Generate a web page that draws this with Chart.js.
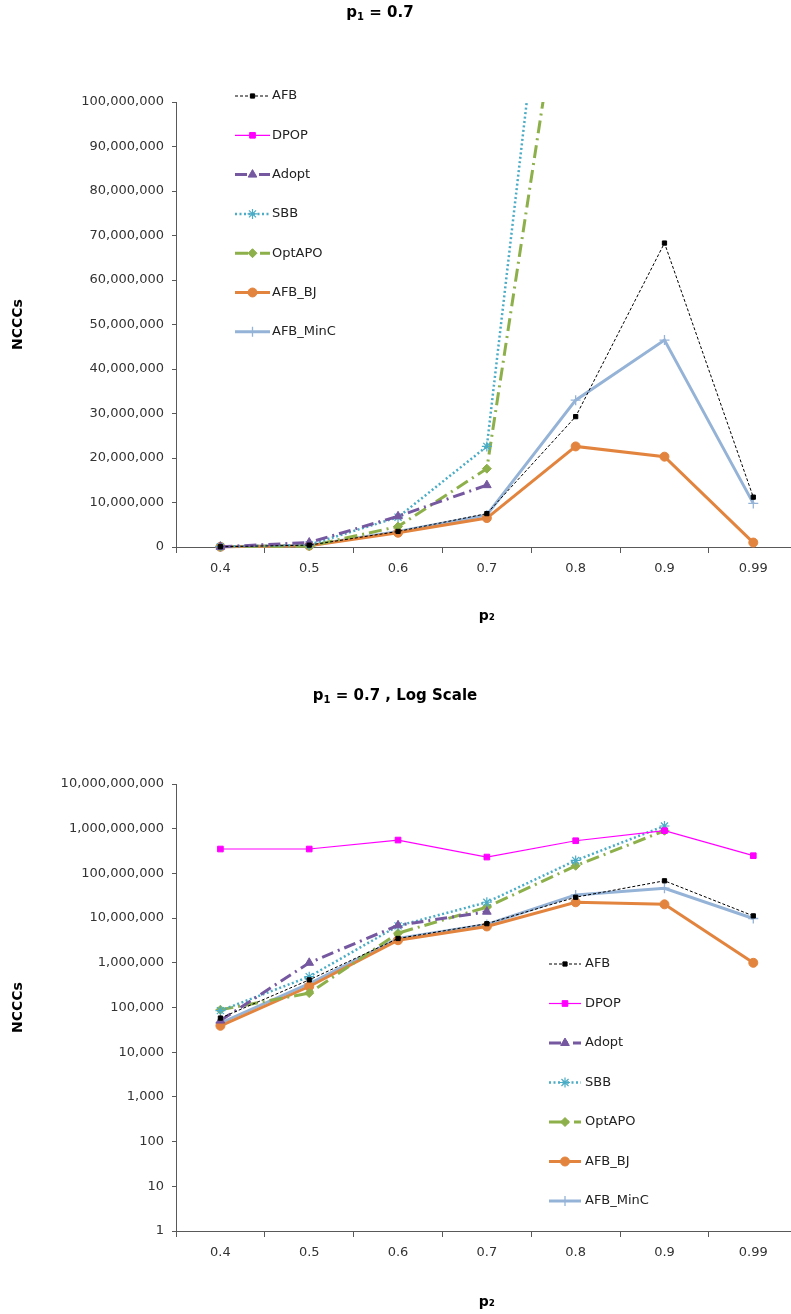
<!DOCTYPE html>
<html>
<head>
<meta charset="utf-8">
<script src="https://cdn.jsdelivr.net/npm/chart.js@4.4.0/dist/chart.umd.min.js"></script>
<style>
  html, body { margin: 0; padding: 0; background: #fff; overflow: hidden; }
  #page { position: relative; width: 791px; height: 1314px; overflow: hidden; }
  canvas { position: absolute; left: 0; }
  .title { position: absolute; transform: translateX(-50%); font: bold 15px "DejaVu Sans", sans-serif;
           white-space: nowrap; color: #000; line-height: 16px; }
  .title sub { font-size: 10px; vertical-align: -3px; line-height: 0; }
</style>
</head>
<body>
<div id="page">
  <canvas id="linearChart" width="804" height="640" style="top:0"></canvas>
  <canvas id="logChart" width="804" height="664" style="top:650px"></canvas>
  <div class="title" style="left:380px; top:4px">p<sub>1</sub> = 0.7</div>
  <div class="title" style="left:395px; top:687px">p<sub>1</sub> = 0.7 , Log Scale</div>
</div>
<script>
// p2 values on the x axis
const categories = ["0.4", "0.5", "0.6", "0.7", "0.8", "0.9", "0.99"];

// NCCCs per algorithm (log chart used for the big values)
const afb = [58000, 415000, 3500000, 7500000, 29300000, 68300000, 11200000];
const dpop = [351000000, 351000000, 557000000, 232000000, 538000000, 902000000, 249000000];
const adopt = [51000, 1000000, 6900000, 13900000, null, null, null];
const sbb = [85000, 490000, 6700000, 22600000, 195000000, 1150000000, null];
const optApo = [89000, 210000, 4600000, 17600000, 148000000, 900000000, null];
const afbBj = [39000, 295000, 3200000, 6500000, 22600000, 20300000, 1000000];
const afbMinC = [45000, 340000, 3500000, 7200000, 33000000, 46500000, 9800000];

const linearTicks = [0, 10000000, 20000000, 30000000, 40000000, 50000000, 60000000, 70000000, 80000000, 90000000, 100000000];
const logTicks = [1, 10, 100, 1000, 10000, 100000, 1000000, 10000000, 100000000, 1000000000, 10000000000];

Chart.defaults.font.family = '"DejaVu Sans", sans-serif';
Chart.defaults.font.size = 13;
Chart.defaults.color = "#333";

const AXIS = "#595959";

function makeDatasets(clip) {
  const ds = [
    { label: "AFB", data: afb, borderColor: "#000", borderWidth: 1, borderDash: [3, 2],
      pointStyle: "rect", pointRadius: 3, pointBackgroundColor: "#000", pointBorderColor: "#000", pointBorderWidth: 1 },
    { label: "DPOP", data: dpop, borderColor: "#ff00ff", borderWidth: 1.2, borderDash: [],
      pointStyle: "rect", pointRadius: 4, pointBackgroundColor: "#ff00ff", pointBorderColor: "#ff00ff", pointBorderWidth: 1 },
    { label: "Adopt", data: adopt, borderColor: "#7558a0", borderWidth: 3, borderDash: [12, 5, 2, 5],
      pointStyle: "triangle", pointRadius: 5, pointBackgroundColor: "#7558a0", pointBorderColor: "#7558a0", pointBorderWidth: 1 },
    { label: "SBB", data: sbb, borderColor: "#4bacc6", borderWidth: 2.5, borderDash: [2, 2.5],
      pointStyle: "star", pointRadius: 5, pointBackgroundColor: "#4bacc6", pointBorderColor: "#4bacc6", pointBorderWidth: 1.2 },
    { label: "OptAPO", data: optApo, borderColor: "#8db04a", borderWidth: 3, borderDash: [13, 5, 2, 5],
      pointStyle: "rectRot", pointRadius: 4.5, pointBackgroundColor: "#8db04a", pointBorderColor: "#8db04a", pointBorderWidth: 1 },
    { label: "AFB_BJ", data: afbBj, borderColor: "#e3843e", borderWidth: 3, borderDash: [],
      pointStyle: "circle", pointRadius: 4.5, pointBackgroundColor: "#e3843e", pointBorderColor: "#e3843e", pointBorderWidth: 1 },
    { label: "AFB_MinC", data: afbMinC, borderColor: "#95b3d7", borderWidth: 3, borderDash: [],
      pointStyle: "cross", pointRadius: 5, pointBackgroundColor: "#95b3d7", pointBorderColor: "#95b3d7", pointBorderWidth: 1.3 }
  ];
  ds.forEach((d) => { d.tension = 0; d.fill = false; d.clip = clip; d.spanGaps = false; d.pointHoverRadius = d.pointRadius; });
  return ds;
}

// legend drawn inside the plot, line + marker + text like the original
const inlineLegend = {
  id: "inlineLegend",
  afterDraw(chart, args, opts) {
    const ctx = chart.ctx;
    chart.data.datasets.forEach((ds, i) => {
      const y = opts.y + i * opts.gap;
      const x0 = opts.x, x1 = opts.x + opts.lineLen;
      ctx.save();
      ctx.strokeStyle = ds.borderColor;
      ctx.lineWidth = ds.borderWidth;
      ctx.setLineDash(ds.borderDash);
      ctx.beginPath();
      ctx.moveTo(x0, y);
      ctx.lineTo(x1, y);
      ctx.stroke();
      ctx.setLineDash([]);
      ctx.fillStyle = ds.pointBackgroundColor;
      ctx.strokeStyle = ds.pointBorderColor;
      ctx.lineWidth = ds.pointBorderWidth;
      Chart.helpers.drawPoint(ctx, { pointStyle: ds.pointStyle, radius: ds.pointRadius, rotation: 0, borderWidth: ds.pointBorderWidth }, (x0 + x1) / 2, y);
      ctx.fillStyle = "#222";
      ctx.font = '13px "DejaVu Sans", sans-serif';
      ctx.textBaseline = "middle";
      ctx.textAlign = "left";
      ctx.fillText(ds.label, x1 + opts.textGap, y);
      ctx.restore();
    });
  }
};

function makeConfig(opt) {
  return {
    type: "line",
    data: { labels: categories, datasets: makeDatasets(opt.clip) },
    plugins: [inlineLegend],
    options: {
      responsive: false,
      animation: false,
      layout: { padding: { top: opt.top, right: 3, left: 0, bottom: 0 } },
      plugins: {
        legend: { display: false },
        tooltip: { enabled: false },
        inlineLegend: opt.legend
      },
      scales: {
        x: {
          offset: true,
          afterFit: (scale) => { scale.height = opt.xHeight; },
          grid: { offset: true, drawOnChartArea: false, color: AXIS, tickLength: 6 },
          border: { color: AXIS },
          ticks: { padding: 8, color: "#333", font: { size: 13 } },
          title: { display: true, text: "p₂", color: "#000", font: { size: 14, weight: "bold" },
                   padding: { top: 0, bottom: opt.xTitlePad } }
        },
        y: opt.yScale
      }
    }
  };
}

function yAxisCommon(extra) {
  return Object.assign({
    afterFit: (scale) => { scale.width = 176; },
    grid: { drawOnChartArea: false, color: AXIS, tickLength: 4 },
    border: { color: AXIS },
    title: { display: true, text: "NCCCs", color: "#000", font: { size: 14, weight: "bold" }, padding: { top: 10, bottom: 0 } }
  }, extra);
}

new Chart(document.getElementById("linearChart"), makeConfig({
  top: 102,
  xHeight: 93,
  xTitlePad: 15,
  clip: { left: false, top: 0, right: false, bottom: false },
  legend: { x: 235, y: 96, gap: 39.3, lineLen: 35, textGap: 2 },
  yScale: yAxisCommon({
    type: "linear",
    min: 0,
    max: 100000000,
    afterBuildTicks: (scale) => { scale.ticks = linearTicks.map((v) => ({ value: v })); },
    ticks: { padding: 8, color: "#333", font: { size: 13 }, callback: (v) => Number(v).toLocaleString("en-US") }
  })
}));

new Chart(document.getElementById("logChart"), makeConfig({
  top: 134,
  xHeight: 83,
  xTitlePad: 3,
  clip: false,
  legend: { x: 549, y: 314, gap: 39.5, lineLen: 32, textGap: 4 },
  yScale: yAxisCommon({
    type: "logarithmic",
    min: 1,
    max: 10000000000,
    afterBuildTicks: (scale) => { scale.ticks = logTicks.map((v) => ({ value: v })); },
    ticks: { padding: 8, color: "#333", font: { size: 13 }, callback: (v) => Number(v).toLocaleString("en-US") }
  })
}));
</script>
</body>
</html>
